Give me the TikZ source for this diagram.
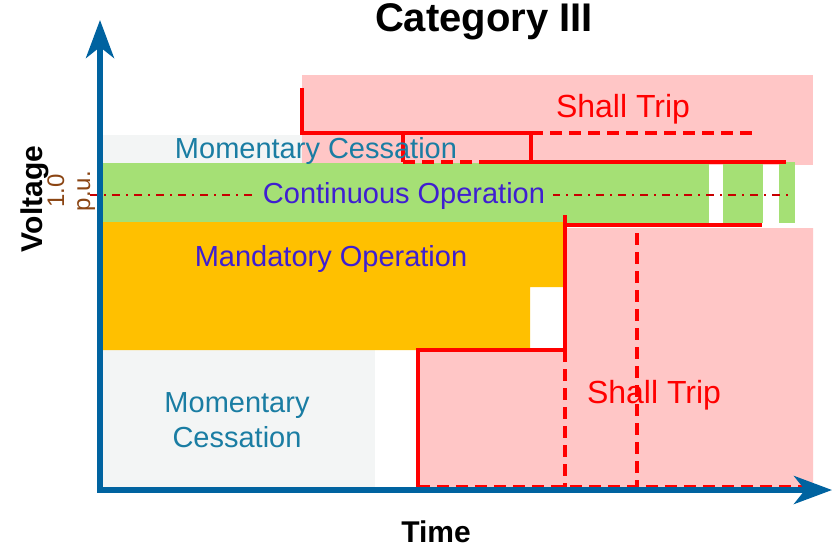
\documentclass[tikz,border=0pt]{standalone}
\usepackage{fontspec}
\setmainfont{Liberation Sans}
\usetikzlibrary{arrows.meta}
\definecolor{axisblue}{HTML}{0063A0}
\definecolor{mcgray}{HTML}{F3F5F5}
\definecolor{cogreen}{HTML}{A5E075}
\definecolor{moorange}{HTML}{FFC000}
\definecolor{trippink}{HTML}{FFC6C6}
\definecolor{tripred}{HTML}{FF0000}
\definecolor{dotred}{HTML}{C80000}
\definecolor{mcteal}{HTML}{1A7DA3}
\definecolor{opindigo}{HTML}{3F1FD1}
\definecolor{pubrown}{HTML}{8B4513}
\begin{document}
\begin{tikzpicture}[x=1pt,y=-1pt,
  tripline/.style={draw=tripred,line width=3.5pt},
  tripdash/.style={draw=tripred,line width=3.5pt,dash pattern=on 12pt off 7pt},
  refline/.style={draw=dotred,line width=2pt,dash pattern=on 8pt off 6pt on 2pt off 6pt},
  axisline/.style={draw=axisblue,line width=5.5pt,-{Stealth[length=38pt,width=28pt,inset=11pt]}},
  lbl/.style={inner sep=0pt,anchor=base,font=\fontsize{29}{35}\selectfont},
  triplbl/.style={inner sep=0pt,anchor=base,text=tripred,font=\fontsize{32}{38}\selectfont},
  axlbl/.style={inner sep=0pt,anchor=base,font=\bfseries\fontsize{30}{36}\selectfont},
  pulbl/.style={inner sep=0pt,anchor=base,rotate=90,text=pubrown,font=\fontsize{24}{28}\selectfont}]
\useasboundingbox (0,0) rectangle (834,548);
\fill[white] (0,0) rectangle (834,548);
% regions
\fill[mcgray] (100,135) rectangle (530,163);
\fill[mcgray] (100,350) rectangle (375,487);
\fill[trippink] (302,75) rectangle (813,165);
\fill[cogreen] (100,163) rectangle (709,223);
\fill[cogreen] (723,163) rectangle (763,223);
\fill[cogreen] (779,162) rectangle (795,223);
\fill[moorange] (100,222) -- (565,222) -- (565,287) -- (530,287) -- (530,350) -- (100,350) -- cycle;
\fill[trippink] (420,352) -- (565,352) -- (565,228) -- (813,228) -- (813,487) -- (420,487) -- cycle;
% reference 1.0 p.u. line
\coordinate (refL) at (90,195);
\coordinate (refR) at (792,195);
\draw[refline] (refL) -- (refR);
% shall trip boundaries (upper)
\coordinate (u1) at (302,88);
\coordinate (u2) at (302,133);
\coordinate (u3) at (531,133);
\coordinate (u4) at (531,162);
\coordinate (u5) at (786,162);
\coordinate (u6) at (757,133);
\coordinate (u7) at (403,133);
\coordinate (u8) at (403,162);
\coordinate (u9) at (482,162);
\draw[tripline] (u1) -- (u2) -- (u3) -- (u4);
\draw[tripline] (u9) -- (u5);
\draw[tripline] (u7) -- (u8);
\draw[tripdash] (u8) -- (u9);
\draw[tripdash] (u3) -- (u6);
% shall trip boundaries (lower)
\coordinate (l1) at (565,215);
\coordinate (l2) at (565,350);
\coordinate (l3) at (418,350);
\coordinate (l4) at (418,493);
\coordinate (l5) at (565,225);
\coordinate (l6) at (762,225);
\coordinate (l7) at (565,488);
\coordinate (l8) at (637,233);
\coordinate (l9) at (637,488);
\coordinate (l10) at (418,487);
\coordinate (l11) at (808,487);
\draw[tripline] (l1) -- (l2) -- (l3) -- (l4);
\draw[tripline] (l5) -- (l6);
\draw[tripdash] (l2) -- (l7);
\draw[tripdash] (l8) -- (l9);
\draw[tripdash] (l10) -- (l11);
% axes
\coordinate (O) at (100,492);
\coordinate (ytip) at (100,20);
\coordinate (xO) at (97,490);
\coordinate (xtip) at (832,490);
\draw[axisline] (O) -- (ytip);
\draw[axisline] (xO) -- (xtip);
% labels
\node[inner sep=0pt,anchor=base,font=\bfseries\fontsize{40}{48}\selectfont] (title) at (484,32) {Category III};
\node[axlbl,rotate=90] (volt) at (42,199) {Voltage};
\node[axlbl] (time) at (436,542) {Time};
\node[pulbl] (one) at (64,191) {1.0};
\node[pulbl] (pu) at (90,191) {p.u.};
\node[lbl,text=mcteal] (mc1) at (316,159) {Momentary Cessation};
\node[lbl,text=opindigo,fill=cogreen,inner xsep=8pt] (co) at (404,203) {Continuous Operation};
\node[lbl,text=opindigo] (mo) at (331,266) {Mandatory Operation};
\node[lbl,text=mcteal,align=center] (mc2) at (237,447) {Momentary\\Cessation};
\node[triplbl] (st1) at (623,118) {Shall Trip};
\node[triplbl] (st2) at (654,403) {Shall Trip};
\end{tikzpicture}
\end{document}
